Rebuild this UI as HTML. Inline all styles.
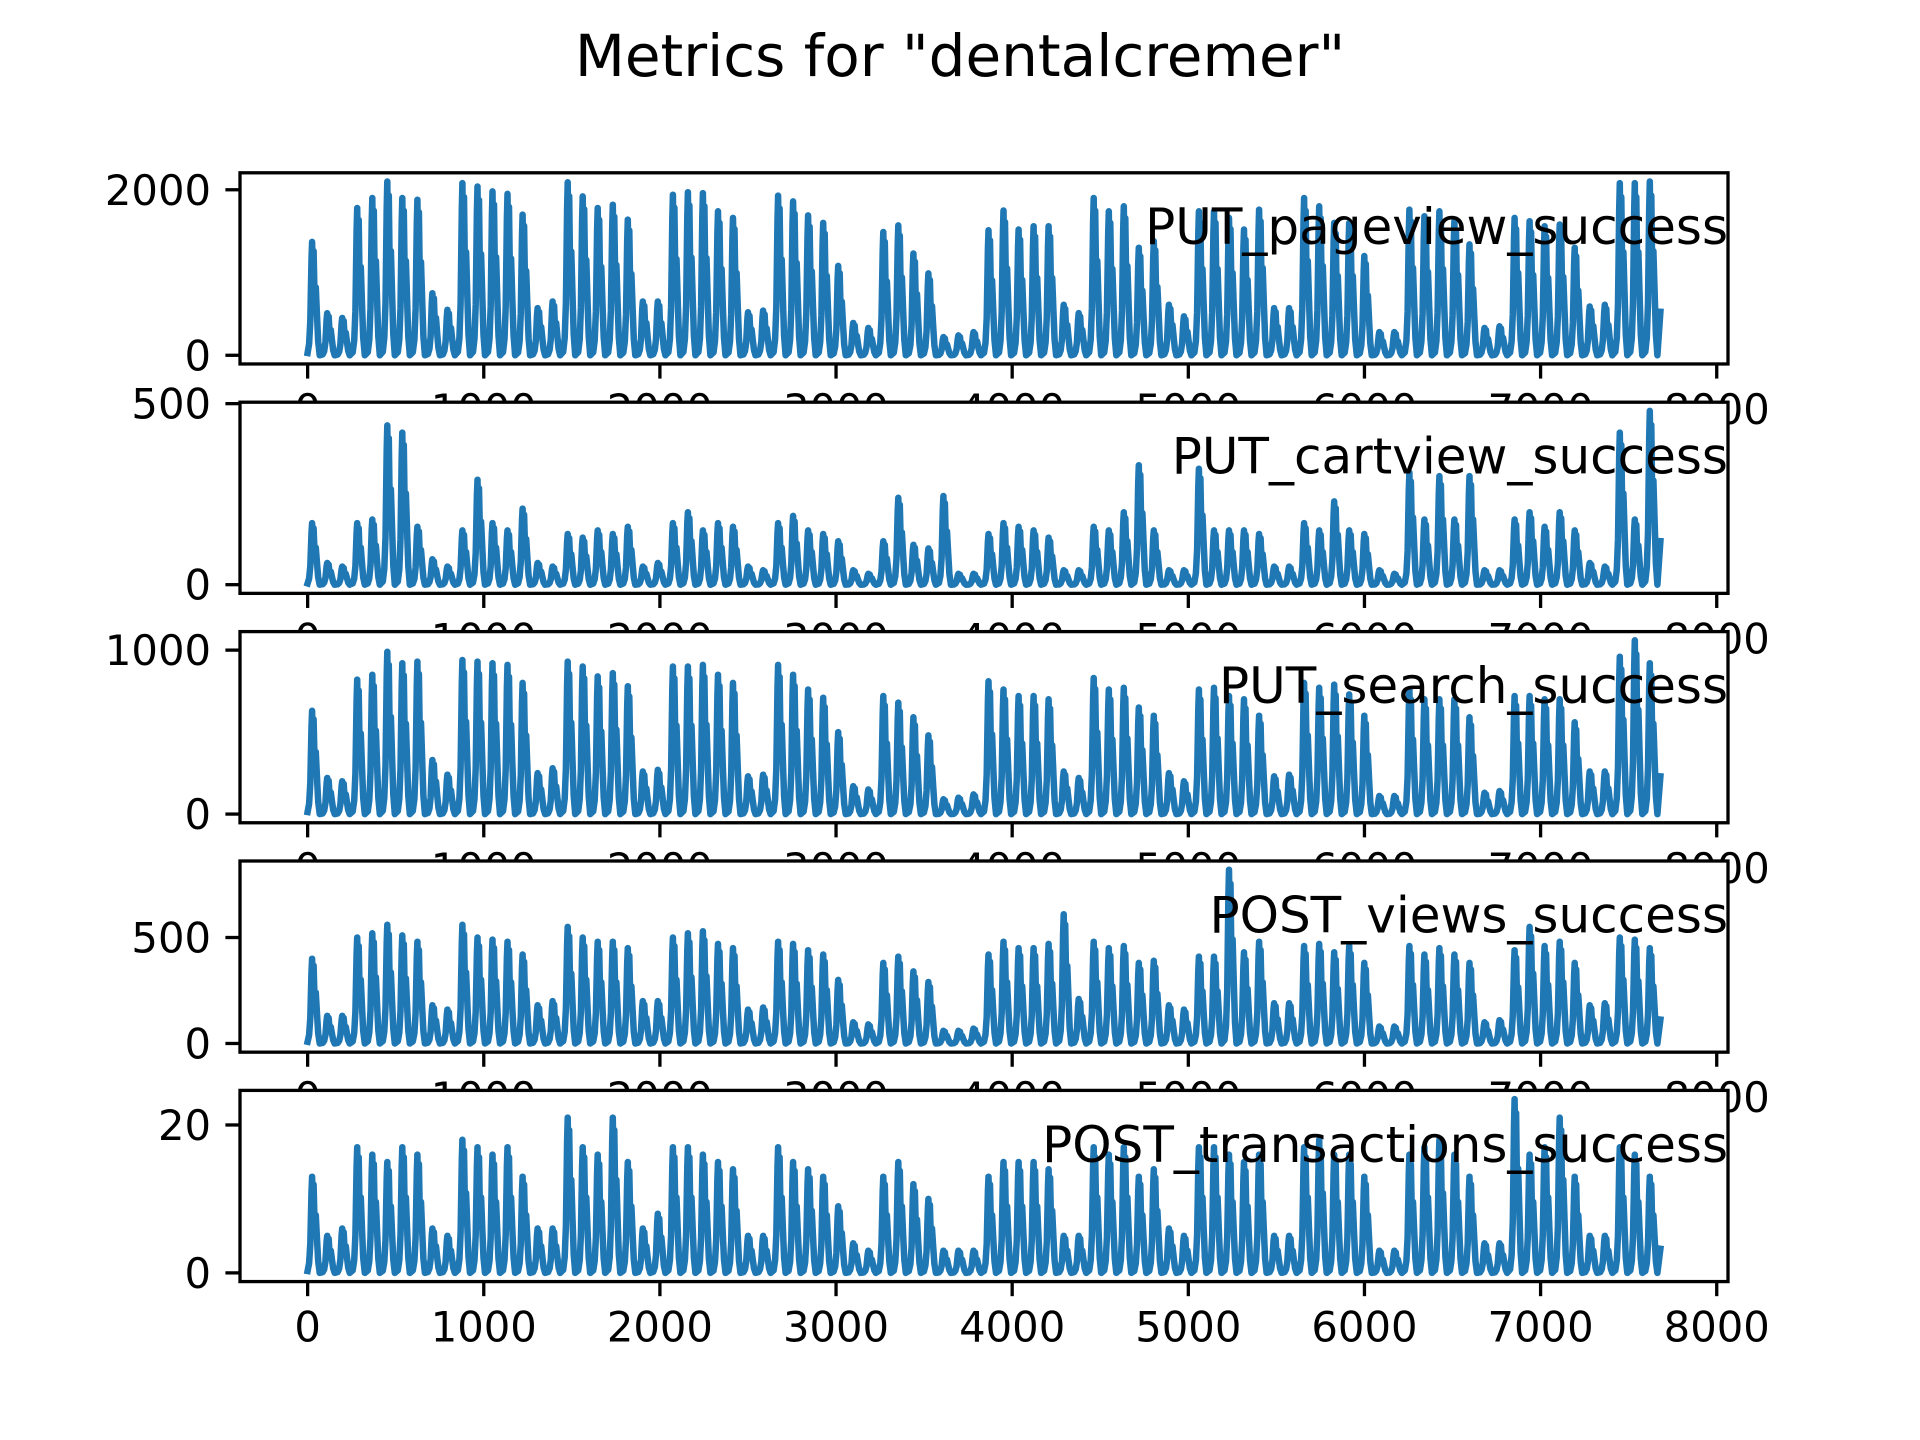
<!DOCTYPE html>
<html><head><meta charset="utf-8"><style>
html,body{margin:0;padding:0;background:#fff;}
svg{display:block;font-family:"DejaVu Sans","Liberation Sans",sans-serif;}
</style></head><body>
<svg id="fig" width="1920" height="1440" viewBox="0 0 1920 1440" xmlns="http://www.w3.org/2000/svg">
<rect width="1920" height="1440" fill="#fff"/>
<text x="960" y="76" text-anchor="middle" font-size="58" fill="#000">Metrics for "dentalcremer"</text>
</svg>
<script>
const N = 7680;
const xTicks = [0,1000,2000,3000,4000,5000,6000,7000,8000];
const seriesNames = ["PUT_pageview_success","PUT_cartview_success","PUT_search_success","POST_views_success","POST_transactions_success"];
const yTicks1 = [0,2000];
const yTicks2 = [0,500];
const yTicks3 = [0,1000];
const yTicks4 = [0,500];
const yTicks5 = [0,20];
const peaks1 = [1370,509,450,1780,1900,2100,1900,1880,750,550,2080,2040,1980,1950,1700,570,650,2090,1920,1780,1820,1640,650,650,1940,1970,1960,1740,1660,520,540,1930,1860,1690,1600,1080,390,330,1490,1570,1230,990,220,240,280,1510,1750,1520,1560,1560,610,510,1900,1740,1800,1300,1380,610,470,1740,1740,1660,1520,1760,570,570,1900,1800,1600,1600,1200,280,280,1760,1680,1740,1620,1340,330,350,1660,1620,1560,1580,1300,590,610,2080,2080,2100];
const peaks2 = [170,60,50,170,180,440,420,160,70,50,150,290,170,150,210,60,50,140,130,150,140,160,50,60,170,200,150,170,160,50,40,170,190,150,140,120,40,30,120,240,110,100,245,30,30,140,170,160,150,130,40,40,160,150,200,330,150,40,40,320,150,150,150,140,50,50,170,150,230,150,140,40,30,310,180,300,180,300,40,40,180,200,160,200,150,60,50,420,180,480];
const peaks3 = [630,220,200,820,850,990,920,930,330,240,940,930,920,910,800,250,280,930,900,840,860,780,260,270,900,900,910,850,800,230,240,910,850,760,710,500,170,150,720,680,590,480,90,100,120,810,760,720,720,700,260,220,830,760,770,650,600,250,200,760,770,720,700,600,230,240,800,770,790,730,600,110,110,760,700,700,700,590,130,140,720,720,700,700,560,260,260,960,1060,920];
const peaks4 = [400,130,130,500,520,560,510,480,180,160,560,500,490,480,420,180,200,550,500,480,480,450,200,200,500,520,530,470,450,160,170,480,470,440,420,300,100,90,380,410,340,290,60,60,70,420,480,450,450,470,610,210,480,450,460,380,390,180,160,410,410,820,430,480,190,190,460,470,430,460,380,80,80,460,420,450,420,380,100,110,440,550,460,480,380,180,190,500,490,450];
const peaks5 = [13,5,6,17,16,15,17,16,6,5,18,17,16,17,13,6,6,21,17,16,21,15,6,8,17,17,16,15,14,5,5,17,15,14,13,9,4,3,13,15,12,10,3,3,3,13,15,15,15,14,5,5,17,16,17,13,14,6,5,17,17,16,15,16,5,5,17,18,16,16,13,3,3,16,17,18,16,13,4,4,23.5,16,17,21,13,5,5,17,16,13];

const allPeaks = [peaks1,peaks2,peaks3,peaks4,peaks5];
const allYTicks = [yTicks1,yTicks2,yTicks3,yTicks4,yTicks5];
const shape = [[0,0.02],[0.1,0.1],[0.18,0.3],[0.26,0.85],[0.3,1.0],[0.34,0.7],[0.4,0.92],[0.46,0.5],[0.54,0.6],[0.62,0.35],[0.7,0.12],[0.8,0.0]];

const svg = document.getElementById('fig');
const NS = 'http://www.w3.org/2000/svg';
const L = 240, R = 1728, TOP = 172.8, H = 191.17, GAP = 38.23;
const xmin = -0.05*N, xmax = N*1.05;
function xs(v){ return L + (v - xmin)/(xmax - xmin)*(R - L); }
function mk(tag, attrs){ const e = document.createElementNS(NS, tag); for (const k in attrs) e.setAttribute(k, attrs[k]); return e; }

for (let a = 0; a < 5; a++) {
  const peaks = allPeaks[a];
  const top = TOP + a*(H + GAP), bot = top + H;
  let mx = Math.max(...peaks), mn = 0;
  const rng = mx - mn;
  const ylo = mn - 0.05*rng, yhi = mx + 0.05*rng;
  const ys = v => bot - (v - ylo)/(yhi - ylo)*H;
  const g = mk('g', {});
  
  
  svg.appendChild(g);
  const bg = mk('rect', {x:L, y:top, width:R-L, height:H, fill:'#fff'});
  
  
  g.appendChild(bg);
  const P = N / peaks.length;
  const pts = [];
  for (let i = 0; i < peaks.length; i++) {
    for (const s of shape) pts.push([i*P + s[0]*P, peaks[i]*s[1]]);
  }
  pts.push([N, peaks[peaks.length-1]*0.25]);
  const d = pts.map((p,i)=>(i?'L':'M')+xs(p[0]).toFixed(1)+' '+ys(p[1]).toFixed(1)).join('');
  const line = mk('path', {d:d, fill:'none', stroke:'#1f77b4', 'stroke-width':6.5, 'stroke-linejoin':'round', 'stroke-linecap':'square'});
  
  
  g.appendChild(line);
  const frame = mk('rect', {x:L, y:top, width:R-L, height:H, fill:'none', stroke:'#000', 'stroke-width':3.3});
  
  
  g.appendChild(frame);
  for (const t of xTicks) {
    const x = xs(t);
    const tk = mk('line', {x1:x, x2:x, y1:bot, y2:bot+14.6, stroke:'#000', 'stroke-width':3.3});
    
    
    g.appendChild(tk);
    const tl = mk('text', {x:x, y:bot+29+31, 'text-anchor':'middle', 'font-size':41.7, fill:'#000'});
    tl.textContent = String(t);
    
    
    g.appendChild(tl);
  }
  for (const t of allYTicks[a]) {
    const y = ys(t);
    const tk = mk('line', {x1:L-14.6, x2:L, y1:y, y2:y, stroke:'#000', 'stroke-width':3.3});
    
    
    g.appendChild(tk);
    const tl = mk('text', {x:L-29, y:y+15, 'text-anchor':'end', 'font-size':41.7, fill:'#000'});
    tl.textContent = String(t);
    
    
    g.appendChild(tl);
  }
  const lab = mk('text', {x:R, y:top + 0.3*H + 14, 'text-anchor':'end', 'font-size':50, fill:'#000'});
  lab.textContent = seriesNames[a];
  
  
  g.appendChild(lab);
}
</script>
</body></html>
